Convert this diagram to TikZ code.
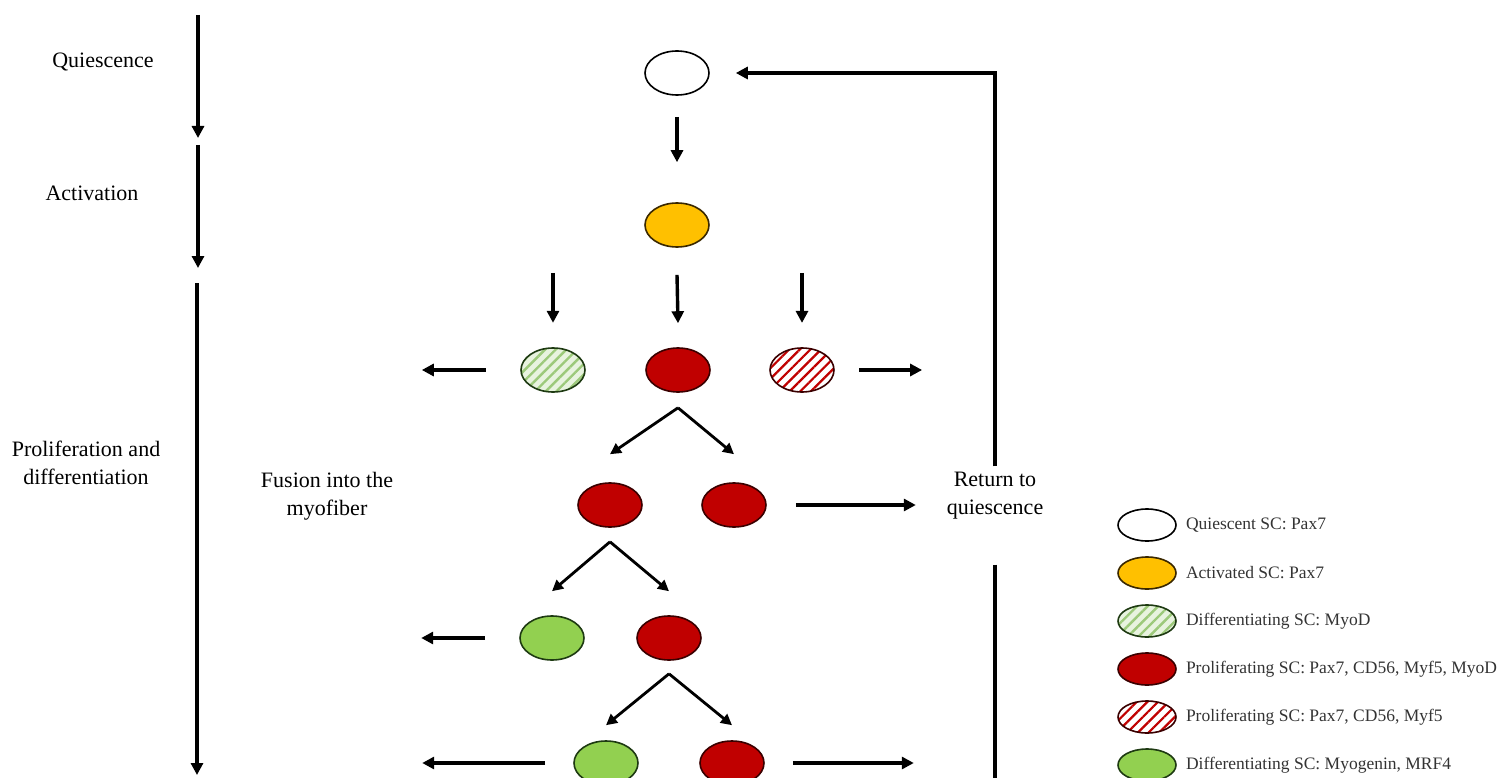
\documentclass[tikz,border=0pt]{standalone}
\usepackage{fontspec}
\setmainfont{Liberation Serif}
\usetikzlibrary{shapes.geometric,arrows.meta,patterns.meta}
\definecolor{cellred}{HTML}{C00000}
\definecolor{edgered}{HTML}{3A0000}
\definecolor{cellorange}{HTML}{FFC000}
\definecolor{edgeorange}{HTML}{3A2800}
\definecolor{cellgreen}{HTML}{92D050}
\definecolor{edgegreen}{HTML}{1E3A12}
\definecolor{hatchgreen}{HTML}{9CC97A}
\definecolor{hatchgreenbg}{HTML}{E8F3DF}
\definecolor{keygray}{HTML}{333333}

\begin{document}
\begin{tikzpicture}[x=1pt, y=-1pt,
  cell/.style={ellipse, draw, line width=1.6pt, inner sep=0pt, minimum width=64pt, minimum height=44pt},
  keycell/.style={cell, minimum width=58pt, minimum height=32pt},
  cellq/.style={fill=white, draw=black},
  cella/.style={fill=cellorange, draw=edgeorange},
  cellp/.style={fill=cellred, draw=edgered},
  celld/.style={fill=cellgreen, draw=edgegreen},
  celldh/.style={preaction={fill=hatchgreenbg}, pattern={Lines[angle=45,distance=7.5pt,line width=2.4pt]}, pattern color=hatchgreen, draw=edgegreen},
  cellph/.style={preaction={fill=white}, pattern={Lines[angle=45,distance=7.5pt,line width=2.2pt]}, pattern color=cellred, draw=edgered},
  arr/.style={line width=3.4pt, -{Triangle[length=12pt,width=12pt]}},
  splitarr/.style={line width=2.8pt, -{Triangle[length=11pt,width=11pt]}},
  stagetext/.style={font=\fontsize{22}{28}\selectfont, align=center, inner sep=0pt},
  keytext/.style={font=\fontsize{17.5}{20}\selectfont, text=keygray, anchor=west, inner sep=0pt}
]

\clip (0,0) rectangle (1498,778);

% stages on the left
\coordinate (t0) at (198,15);
\coordinate (t1) at (198,138);
\coordinate (t2) at (198,145);
\coordinate (t3) at (198,268);
\coordinate (t4) at (197,283);
\coordinate (t5) at (197,775);
\draw[arr] (t0) -- (t1);
\draw[arr] (t2) -- (t3);
\draw[arr] (t4) -- (t5);

\node[stagetext] (quies) at (103,62) {Quiescence};
\node[stagetext] (activ) at (92,193) {Activation};
\node[stagetext] (prodiff) at (86,463) {Proliferation and\\differentiation};
\node[stagetext] (fusion) at (327,496) {Fusion into the\\myofiber};
\node[stagetext] (ret) at (995,496) {Return to\\quiescence};

% cells
\node[cell,cellq] (q) at (677,73) {};
\node[cell,cella] (a) at (677,225) {};
\node[cell,celldh] (d1) at (553,370) {};
\node[cell,cellp] (p1) at (678,370) {};
\node[cell,cellph] (h1) at (802,370) {};
\node[cell,cellp] (p2) at (610,505) {};
\node[cell,cellp] (p3) at (734,505) {};
\node[cell,celld] (g1) at (552,638) {};
\node[cell,cellp] (p4) at (669,638) {};
\node[cell,celld] (g2) at (606,763) {};
\node[cell,cellp] (p5) at (732,763) {};

\draw[arr] ([yshift=-21pt]q.south) -- ([yshift=40pt]a.north);
\draw[arr] ([yshift=74pt]d1.north) -- ([yshift=24pt]d1.north);
\draw[arr] ([yshift=-27pt]a.south) -- ([yshift=24pt]p1.north);
\draw[arr] ([yshift=74pt]h1.north) -- ([yshift=24pt]h1.north);
\draw[arr] ([xshift=-34pt]d1.west) -- ++(-64,0);
\draw[arr] ([xshift=24pt]h1.east) -- ++(63,0);

\draw[splitarr] ([yshift=-15pt]p1.south) -- ([yshift=28pt]p2.north);
\draw[splitarr] ([yshift=-15pt]p1.south) -- ([yshift=28pt]p3.north);
\draw[arr] ([xshift=29pt]p3.east) -- ++(120,0);
\draw[arr] ([yshift=6pt]ret.north) |- ([xshift=26pt]q.east);
\draw[line width=3.4pt] ([yshift=-45pt]ret.south) -- ++(0,230);

\draw[splitarr] ([yshift=-14pt]p2.south) -- ([yshift=24pt]g1.north);
\draw[splitarr] ([yshift=-14pt]p2.south) -- ([yshift=24pt]p4.north);
\draw[arr] ([xshift=-34pt]g1.west) -- ++(-64,0);

\draw[splitarr] ([yshift=-13pt]p4.south) -- ([yshift=15pt]g2.north);
\draw[splitarr] ([yshift=-13pt]p4.south) -- ([yshift=15pt]p5.north);
\draw[arr] ([xshift=-28pt]g2.west) -- ++(-123,0);
\draw[arr] ([xshift=28pt]p5.east) -- ++(121,0);

% legend
\node[keycell,cellq] (kq) at (1147,525) {};
\node[keytext] at ([xshift=9pt]kq.east) {Quiescent SC: Pax7};
\node[keycell,cella] (ka) at (1147,573) {};
\node[keytext] at ([xshift=9pt]ka.east) {Activated SC: Pax7};
\node[keycell,celldh] (kdh) at (1147,621) {};
\node[keytext] at ([xshift=9pt]kdh.east) {Differentiating SC: MyoD};
\node[keycell,cellp] (kp) at (1147,669) {};
\node[keytext] at ([xshift=9pt]kp.east) {Proliferating SC: Pax7, CD56, Myf5, MyoD};
\node[keycell,cellph] (kph) at (1147,717) {};
\node[keytext] at ([xshift=9pt]kph.east) {Proliferating SC: Pax7, CD56, Myf5};
\node[keycell,celld] (kd) at (1147,765) {};
\node[keytext] at ([xshift=9pt]kd.east) {Differentiating SC: Myogenin, MRF4};

\end{tikzpicture}
\end{document}
